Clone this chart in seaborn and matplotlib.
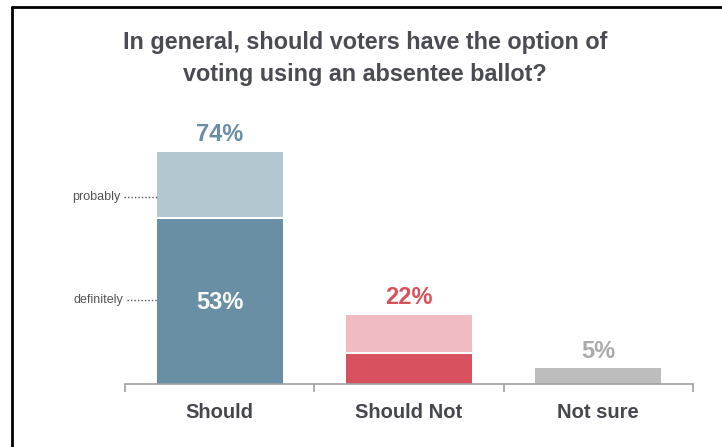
import numpy as np
import pandas as pd
import matplotlib
matplotlib.use("Agg")
import matplotlib.pyplot as plt
import seaborn as sns
from matplotlib.lines import Line2D

# datos
categories = ["Should", "Should Not", "Not sure"]
totals = [74, 22, 5]
definitely = [53, 10, 0]
total_labels = ["74%", "22%", "5%"]

light_colors = ["#B3C7D0", "#F0BCC1", "#BDBDBD"]
dark_colors = ["#698FA5", "#D8515E", "#BDBDBD"]
label_colors = ["#698FA5", "#D8515E", "#AAAAAA"]

sns.set_style("white")
plt.rcParams["font.family"] = ["Liberation Sans", "DejaVu Sans"]

df = pd.DataFrame({"cat": categories, "total": totals, "definitely": definitely})

fig = plt.figure(figsize=(7.22, 4.47), dpi=100)
ax = fig.add_axes([125 / 722, 1 - 384 / 447, 568 / 722, 313.5 / 447])

sns.barplot(data=df, x="cat", y="total", hue="cat", palette=light_colors, saturation=1,
            width=0.667, linewidth=0, legend=False, ax=ax)
sns.barplot(data=df, x="cat", y="definitely", hue="cat", palette=dark_colors, saturation=1,
            width=0.667, linewidth=0, legend=False, ax=ax)

# linea blanca entre las dos partes
for i in range(2):
    ax.plot([i - 0.333, i + 0.333], [definitely[i], definitely[i]], color="white", lw=1.5)

ax.set_xlim(-0.5, 2.5)
ax.set_ylim(0, 100)
ax.set_xlabel("")
ax.set_ylabel("")
ax.set_yticks([])
for s in ["left", "right", "top"]:
    ax.spines[s].set_visible(False)
ax.spines["bottom"].set_color("#A0A0A0")
ax.spines["bottom"].set_linewidth(1.2)

ax.set_xticks([0, 1, 2])
ax.set_xticklabels(categories, fontsize=14.5, fontweight="bold", color="#45464E")
ax.tick_params(axis="x", which="major", length=0, pad=14)
ax.set_xticks([-0.5, 0.5, 1.5, 2.5], minor=True)
ax.tick_params(axis="x", which="minor", bottom=True, length=6, width=1.2,
               color="#A0A0A0", direction="out")

# etiquetas de valores
for i, t in enumerate(totals):
    ax.text(i, t + 5.5, total_labels[i], ha="center", va="center",
            fontsize=17, fontweight="bold", color=label_colors[i])
ax.text(0, 26, "53%", ha="center", va="center", fontsize=17, fontweight="bold", color="white")

# etiquetas laterales
ax.text(-0.525, 59.6, "probably", ha="right", va="center", fontsize=9, color="#555555", clip_on=False)
ax.plot([-0.505, -0.333], [59.6, 59.6], ls=(0, (1, 1.5)), color="#555555", lw=1, clip_on=False)
ax.text(-0.51, 26.8, "definitely", ha="right", va="center", fontsize=9, color="#555555", clip_on=False)
ax.plot([-0.49, -0.333], [26.8, 26.8], ls=(0, (1, 1.5)), color="#555555", lw=1, clip_on=False)

fig.text(365 / 722, 1 - 58.5 / 447,
         "In general, should voters have the option of\nvoting using an absentee ballot?",
         ha="center", va="center", fontsize=16.8, fontweight="bold", color="#4A4B53",
         linespacing=1.45)

# marco
fig.add_artist(Line2D([12 / 722, 12 / 722], [0, 1 - 7 / 447], color="black", lw=2))
fig.add_artist(Line2D([12 / 722, 1], [1 - 7 / 447, 1 - 7 / 447], color="black", lw=2))

fig.savefig("out.png", dpi=100)
